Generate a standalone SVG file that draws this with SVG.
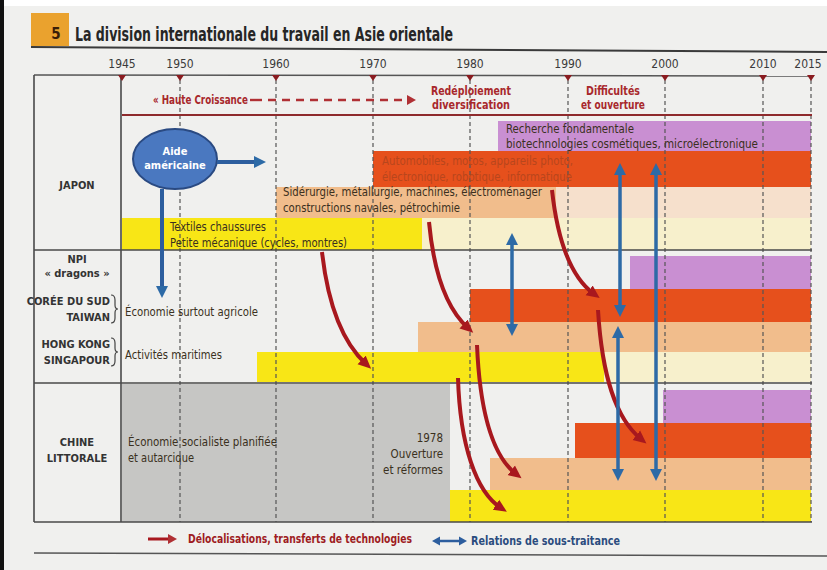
<svg xmlns="http://www.w3.org/2000/svg" width="827" height="570" viewBox="0 0 827 570">
<defs>
<style>
.f{font-family:"Liberation Sans Narrow","DejaVu Sans Condensed","Liberation Sans",sans-serif}
.lab{font-family:"Liberation Sans Narrow","DejaVu Sans Condensed","Liberation Sans",sans-serif;font-weight:bold;font-size:11px;fill:#333}
.yr{font-family:"Liberation Sans Narrow","DejaVu Sans Condensed","Liberation Sans",sans-serif;font-size:12px;fill:#3a3a3a;text-anchor:middle}
.hd{font-family:"Liberation Sans Narrow","DejaVu Sans Condensed","Liberation Sans",sans-serif;font-weight:bold;font-size:12px;fill:#a8282c}
.bt{font-family:"Liberation Sans Narrow","DejaVu Sans Condensed","Liberation Sans",sans-serif;font-size:11.5px;fill:#3a3020}
.dash{stroke:#555;stroke-width:1.2;stroke-dasharray:4 3;fill:none}
.sep{stroke:#4a4a4a;stroke-width:1.6;fill:none}
.red{stroke:#a8181e;stroke-width:4;fill:none;marker-end:url(#ra)}
.blue{stroke:#2d6aa6;stroke-width:3.5;fill:none;marker-end:url(#ba);marker-start:url(#ba)}
.pu{fill:#c98fd2}.or{fill:#e6501c}.ta{fill:#f1bd8c}.ye{fill:#f8e616}.py{fill:#f7f0cc}.pp{fill:#f6e0cc}
</style>
<marker id="ra" markerWidth="14" markerHeight="14" refX="6" refY="7" orient="auto" markerUnits="userSpaceOnUse"><path d="M0,1 L13,7 L0,13 z" fill="#a8181e"/></marker>
<marker id="ba" markerWidth="13" markerHeight="13" refX="4" refY="6" orient="auto-start-reverse" markerUnits="userSpaceOnUse"><path d="M0,0 L12,6 L0,12 z" fill="#2d6aa6"/></marker>
<marker id="sa" markerWidth="10" markerHeight="10" refX="3" refY="5" orient="auto" markerUnits="userSpaceOnUse"><path d="M0,0 L9,5 L0,10 z" fill="#b03034"/></marker>
</defs>
<rect x="0" y="0" width="827" height="570" fill="#f0f0ee"/>
<rect x="0" y="0" width="827" height="6" fill="#ffffff"/>
<rect x="0" y="0" width="4" height="570" fill="#111"/>

<g id="title">
<rect x="31" y="13" width="38" height="33" fill="#eaa22e"/>
<text x="56" y="39" class="f" font-weight="bold" font-size="15" fill="#3a1e08" text-anchor="middle">5</text>
<text x="75" y="41" class="f" font-weight="bold" font-size="19" fill="#262626" textLength="378" lengthAdjust="spacingAndGlyphs">La division internationale du travail en Asie orientale</text>
<path d="M31 47 L827 52" stroke="#3a3a3a" stroke-width="2" fill="none"/>
</g>

<g id="timeline">
<text x="122" y="68" class="yr">1945</text>
<text x="180" y="68" class="yr">1950</text>
<text x="276" y="68" class="yr">1960</text>
<text x="373" y="68" class="yr">1970</text>
<text x="470" y="68" class="yr">1980</text>
<text x="568" y="68" class="yr">1990</text>
<text x="665" y="68" class="yr">2000</text>
<text x="763" y="68" class="yr">2010</text>
<text x="808" y="68" class="yr">2015</text>
<path d="M34 75 L814 76" stroke="#555" stroke-width="1.5" fill="none"/>
</g>

<g id="japon-bars">
<rect x="498" y="121" width="313" height="30" class="pu"/>
<rect x="373" y="151" width="438" height="36" class="or"/>
<rect x="276" y="187" width="280" height="31" class="ta"/>
<rect x="556" y="187" width="255" height="31" class="pp"/>
<rect x="122" y="218" width="300" height="32" class="ye"/>
<rect x="422" y="218" width="389" height="32" class="py"/>
</g>
<g id="npi-bars">
<rect x="630" y="256" width="181" height="33" class="pu"/>
<rect x="470" y="289" width="341" height="33" class="or"/>
<rect x="418" y="322" width="393" height="30" class="ta"/>
<rect x="257" y="352" width="347" height="30" class="ye"/>
<rect x="604" y="352" width="207" height="30" class="py"/>
</g>
<g id="chine-bars">
<rect x="122" y="384" width="328" height="138" fill="#c6c6c4"/>
<rect x="663" y="390" width="148" height="33" class="pu"/>
<rect x="575" y="423" width="236" height="35" class="or"/>
<rect x="490" y="458" width="321" height="32" class="ta"/>
<rect x="450" y="490" width="361" height="32" class="ye"/>
</g>

<g id="grid">
<path class="dash" d="M180 80V522M276 80V522M373 80V522M470 80V522M568 80V522M665 80V522M763 80V522M811 80V522"/>
<path class="sep" d="M34 75V522M121 75V522M34 250H812M34 383H812M34 522H812"/>
<path d="M34 553 L827 556" stroke="#555" stroke-width="1.5" fill="none"/>
<path d="M122 115 H812" stroke="#8e2a2c" stroke-width="2.2" fill="none"/>
<path d="M118 75h8l-4 6z M176 75h8l-4 6z M272 75h8l-4 6z M369 75h8l-4 6z M466 75h8l-4 6z M564 75h8l-4 6z M661 75h8l-4 6z M759 75h8l-4 6z M807 75h8l-4 6z" fill="#8a1c20"/>
</g>

<g id="periodes">
<text x="153" y="104" class="hd" textLength="95" lengthAdjust="spacingAndGlyphs">« Haute Croissance</text>
<path d="M250 100 H262" stroke="#b03034" stroke-width="2.4" fill="none"/>
<path d="M268 100 H410" stroke="#b03034" stroke-width="2.4" stroke-dasharray="8 6" fill="none" marker-end="url(#sa)"/>
<text x="471" y="95" class="hd" text-anchor="middle" textLength="80" lengthAdjust="spacingAndGlyphs">Redéploiement</text>
<text x="471" y="109" class="hd" text-anchor="middle" textLength="78" lengthAdjust="spacingAndGlyphs">diversification</text>
<text x="613" y="95" class="hd" text-anchor="middle" textLength="54" lengthAdjust="spacingAndGlyphs">Difficultés</text>
<text x="613" y="109" class="hd" text-anchor="middle" textLength="64" lengthAdjust="spacingAndGlyphs">et ouverture</text>
</g>

<g id="japon">
<text x="77" y="189" class="lab" text-anchor="middle">JAPON</text>
<text x="506" y="133" class="bt" textLength="128" lengthAdjust="spacingAndGlyphs">Recherche fondamentale</text>
<text x="506" y="148" class="bt" textLength="252" lengthAdjust="spacingAndGlyphs">biotechnologies cosmétiques, microélectronique</text>
<text x="382" y="165" class="bt" style="fill:#b8461c" textLength="191" lengthAdjust="spacingAndGlyphs">Automobiles, motos, appareils photo,</text>
<text x="382" y="181" class="bt" style="fill:#b8461c" textLength="190" lengthAdjust="spacingAndGlyphs">électronique, robotique, informatique</text>
<text x="283" y="196" class="bt" textLength="259" lengthAdjust="spacingAndGlyphs">Sidérurgie, métallurgie, machines, électroménager</text>
<text x="283" y="212" class="bt" textLength="177" lengthAdjust="spacingAndGlyphs">constructions navales, pétrochimie</text>
<text x="170" y="231" class="bt" textLength="96" lengthAdjust="spacingAndGlyphs">Textiles chaussures</text>
<text x="170" y="247" class="bt" textLength="177" lengthAdjust="spacingAndGlyphs">Petite mécanique (cycles, montres)</text>
</g>

<g id="aide">
<ellipse cx="175" cy="159" rx="42" ry="30" fill="#4a78c0" stroke="#2a4a82" stroke-width="2"/>
<text x="175" y="155" class="f" font-weight="bold" font-size="11" fill="#fff" text-anchor="middle">Aide</text>
<text x="175" y="169" class="f" font-weight="bold" font-size="11" fill="#fff" text-anchor="middle">américaine</text>
</g>

<g id="npi">
<text x="77" y="263" class="lab" text-anchor="middle">NPI</text>
<text x="77" y="277" class="lab" text-anchor="middle">« dragons »</text>
<text x="110" y="305" class="lab" text-anchor="end">CORÉE DU SUD</text>
<text x="110" y="321" class="lab" text-anchor="end">TAIWAN</text>
<text x="110" y="348" class="lab" text-anchor="end">HONG KONG</text>
<text x="110" y="364" class="lab" text-anchor="end">SINGAPOUR</text>
<path d="M111 295 q4 0 4 5 v5 q0 4 3 4 q-3 0 -3 4 v5 q0 5 -4 5 M111 338 q4 0 4 5 v5 q0 4 3 4 q-3 0 -3 4 v5 q0 5 -4 5" stroke="#444" stroke-width="1.2" fill="none"/>
<text x="125" y="316" class="bt" textLength="133" lengthAdjust="spacingAndGlyphs">Économie surtout agricole</text>
<text x="125" y="359" class="bt" textLength="97" lengthAdjust="spacingAndGlyphs">Activités maritimes</text>
</g>

<g id="chine">
<text x="77" y="446" class="lab" text-anchor="middle">CHINE</text>
<text x="77" y="462" class="lab" text-anchor="middle">LITTORALE</text>
<text x="128" y="446" class="bt" textLength="149" lengthAdjust="spacingAndGlyphs">Économie socialiste planifiée</text>
<text x="128" y="462" class="bt" textLength="66" lengthAdjust="spacingAndGlyphs">et autarcique</text>
<text x="443" y="442" class="bt" text-anchor="end">1978</text>
<text x="443" y="458" class="bt" text-anchor="end">Ouverture</text>
<text x="443" y="474" class="bt" text-anchor="end">et réformes</text>
</g>

<g id="connectors">
<path d="M217 162 H258" stroke="#2d5e9e" stroke-width="4" fill="none" marker-end="url(#ba)"/>
<path d="M162 189 V290" stroke="#2d5e9e" stroke-width="4" fill="none" marker-end="url(#ba)"/>
<path class="red" d="M322 252 C328 305 342 342 366 364"/>
<path class="red" d="M429 222 C434 275 448 310 468 328"/>
<path class="red" d="M552 190 C558 245 572 278 594 294"/>
<path class="red" d="M458 378 C460 445 476 492 501 508"/>
<path class="red" d="M477 345 C480 415 494 457 516 474"/>
<path class="red" d="M598 310 C602 375 615 418 641 439"/>
<path class="blue" d="M512 241 V328"/>
<path class="blue" d="M620 171 V309"/>
<path class="blue" d="M618 334 V473"/>
<path class="blue" d="M656 171 V473"/>
</g>

<g id="legend">
<path d="M148 539 H171" stroke="#a8181e" stroke-width="3" fill="none" marker-end="url(#sa)"/>
<text x="188" y="543" class="hd" style="fill:#9e1c22" textLength="224" lengthAdjust="spacingAndGlyphs">Délocalisations, transferts de technologies</text>
<path d="M439 541 H460" stroke="#2d5e9e" stroke-width="2.5" fill="none"/>
<path d="M432 541 l8 -4.5 v9 z M467 541 l-8 -4.5 v9 z" fill="#2d5e9e"/>
<text x="471" y="545" class="hd" style="fill:#2b4c7e" textLength="149" lengthAdjust="spacingAndGlyphs">Relations de sous-traitance</text>
</g>
</svg>
